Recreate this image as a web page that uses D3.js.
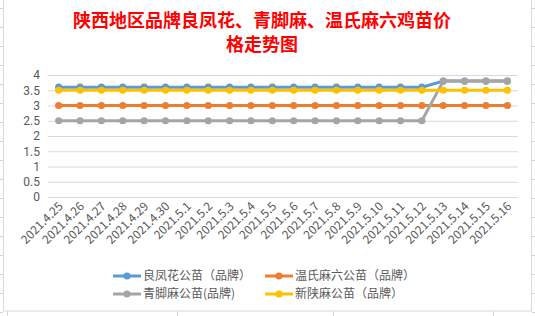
<!DOCTYPE html>
<html>
<head>
<meta charset="utf-8">
<script src="https://cdn.jsdelivr.net/npm/d3@7/dist/d3.min.js"></script>
<style>
  body { margin: 0; background: #ffffff; }
  svg { display: block; }
</style>
</head>
<body>
<div id="chart"></div>
<script>
'use strict';

// categories (dates)
const dates = ["2021.4.25", "2021.4.26", "2021.4.27", "2021.4.28", "2021.4.29", "2021.4.30",
    "2021.5.1", "2021.5.2", "2021.5.3", "2021.5.4", "2021.5.5", "2021.5.6", "2021.5.7", "2021.5.8",
    "2021.5.9", "2021.5.10", "2021.5.11", "2021.5.12", "2021.5.13", "2021.5.14", "2021.5.15", "2021.5.16"];

// series values
const liangfenghua = [3.6, 3.6, 3.6, 3.6, 3.6, 3.6, 3.6, 3.6, 3.6, 3.6, 3.6, 3.6, 3.6, 3.6, 3.6, 3.6, 3.6, 3.6, 3.8, 3.8, 3.8, 3.8];
const wenshima = [3, 3, 3, 3, 3, 3, 3, 3, 3, 3, 3, 3, 3, 3, 3, 3, 3, 3, 3, 3, 3, 3];
const qingjiaoma = [2.5, 2.5, 2.5, 2.5, 2.5, 2.5, 2.5, 2.5, 2.5, 2.5, 2.5, 2.5, 2.5, 2.5, 2.5, 2.5, 2.5, 2.5, 3.8, 3.8, 3.8, 3.8];
const xinshanma = [3.5, 3.5, 3.5, 3.5, 3.5, 3.5, 3.5, 3.5, 3.5, 3.5, 3.5, 3.5, 3.5, 3.5, 3.5, 3.5, 3.5, 3.5, 3.5, 3.5, 3.5, 3.5];

const seriesNames = ["良凤花公苗（品牌）", "温氏麻六公苗（品牌）", "青脚麻公苗(品牌)", "新陕麻公苗（品牌）"];
const yTicks = [0, 0.5, 1, 1.5, 2, 2.5, 3, 3.5, 4];
const titleLines = ["陕西地区品牌良凤花、青脚麻、温氏麻六鸡苗价", "格走势图"];

const params = {
    width: 535,
    height: 316,
    plotLeft: 48,
    plotRight: 518,
    plotTop: 75,
    plotBottom: 197,
    colors: ["#5b9bd5", "#ed7d31", "#a5a5a5", "#ffc000"],
    textColor: "#595959",
    gridColor: "#d9d9d9",
    font: "'Microsoft YaHei', 'Noto Sans CJK SC', 'Noto Sans', sans-serif",
    numFont: "Roboto, 'Liberation Sans', sans-serif"
};

const series = [liangfenghua, wenshima, qingjiaoma, xinshanma];

const svg = d3.select("#chart").append("svg")
    .attr("width", params.width)
    .attr("height", params.height)
    .style("font-family", params.font);

// spreadsheet cells peeking around the chart
const sheet = svg.append("g").attr("stroke", "#d4d4d4").attr("stroke-width", 1);
d3.range(8, 316, 19).forEach(y => {
    sheet.append("line").attr("x1", 0).attr("x2", 3).attr("y1", y + 0.5).attr("y2", y + 0.5);
    sheet.append("line").attr("x1", 532).attr("x2", 535).attr("y1", y + 0.5).attr("y2", y + 0.5);
});
[177, 333, 493].forEach(x => {
    sheet.append("line").attr("x1", x + 0.5).attr("x2", x + 0.5).attr("y1", 0).attr("y2", 3);
    sheet.append("line").attr("x1", x + 0.5).attr("x2", x + 0.5).attr("y1", 311).attr("y2", 316);
});
sheet.append("line").attr("x1", 7.5).attr("x2", 7.5).attr("y1", 311).attr("y2", 316);

// chart area
svg.append("rect")
    .attr("x", 3.5).attr("y", -1)
    .attr("width", 528).attr("height", 312)
    .attr("fill", "#ffffff")
    .attr("stroke", "#d9d9d9");

// title
svg.append("g").selectAll("text")
    .data(titleLines)
    .join("text")
    .attr("x", 262)
    .attr("y", (d, i) => 27 + i * 24)
    .attr("text-anchor", "middle")
    .style("font-family", "'Noto Sans CJK SC', sans-serif")
    .style("font-weight", "bold")
    .style("font-size", "18px")
    .style("fill", "#ff0000")
    .text(d => d);

// scales
const x = d3.scaleBand()
    .domain(dates)
    .range([params.plotLeft, params.plotRight]);

const y = d3.scaleLinear()
    .domain([0, 4])
    .range([params.plotBottom, params.plotTop]);

// horizontal grid + y labels
const yAxis = d3.axisLeft(y)
    .tickValues(yTicks)
    .tickSize(-(params.plotRight - params.plotLeft))
    .tickPadding(8)
    .tickFormat(d3.format("~g"));

const gy = svg.append("g")
    .attr("transform", `translate(${params.plotLeft},0)`)
    .call(yAxis);
gy.select(".domain").remove();
gy.selectAll(".tick line").attr("stroke", params.gridColor);
gy.selectAll(".tick text")
    .style("font-size", "12px")
    .style("font-family", params.numFont)
    .attr("fill", params.textColor);

// x labels
const xAxis = d3.axisBottom(x).tickSize(0).tickPadding(0);
const gx = svg.append("g")
    .attr("transform", `translate(0,${params.plotBottom})`)
    .call(xAxis);
gx.select(".domain").remove();
gx.selectAll(".tick text")
    .attr("text-anchor", "end")
    .attr("dy", 0)
    .attr("transform", "translate(5,10) rotate(-45)")
    .style("font-size", "12px")
    .style("font-family", params.font)
    .attr("fill", params.textColor);

// lines with markers
const line = d3.line()
    .x((d, i) => x(dates[i]) + x.bandwidth() / 2)
    .y(d => y(d));

series.forEach((values, k) => {
    const g = svg.append("g");
    g.append("path")
        .attr("d", line(values))
        .attr("fill", "none")
        .attr("stroke", params.colors[k])
        .attr("stroke-width", 3)
        .attr("stroke-linejoin", "round")
        .attr("stroke-linecap", "round");
    g.selectAll("circle")
        .data(values)
        .join("circle")
        .attr("cx", (d, i) => x(dates[i]) + x.bandwidth() / 2)
        .attr("cy", d => y(d))
        .attr("r", 3.6)
        .attr("fill", params.colors[k]);
});

// legend
const legendPos = [[113, 276], [265, 276], [113, 294], [265, 294]];
const legend = svg.append("g");
seriesNames.forEach((name, k) => {
    const [lx, ly] = legendPos[k];
    const item = legend.append("g").attr("transform", `translate(${lx},${ly})`);
    item.append("line")
        .attr("x1", 0).attr("x2", 28)
        .attr("stroke", params.colors[k])
        .attr("stroke-width", 3);
    item.append("circle")
        .attr("cx", 14).attr("r", 3.6)
        .attr("fill", params.colors[k]);
    item.append("text")
        .attr("x", 30)
        .attr("dy", "0.35em")
        .style("font-size", "12px")
        .style("fill", params.textColor)
        .text(name);
});
</script>
</body>
</html>
